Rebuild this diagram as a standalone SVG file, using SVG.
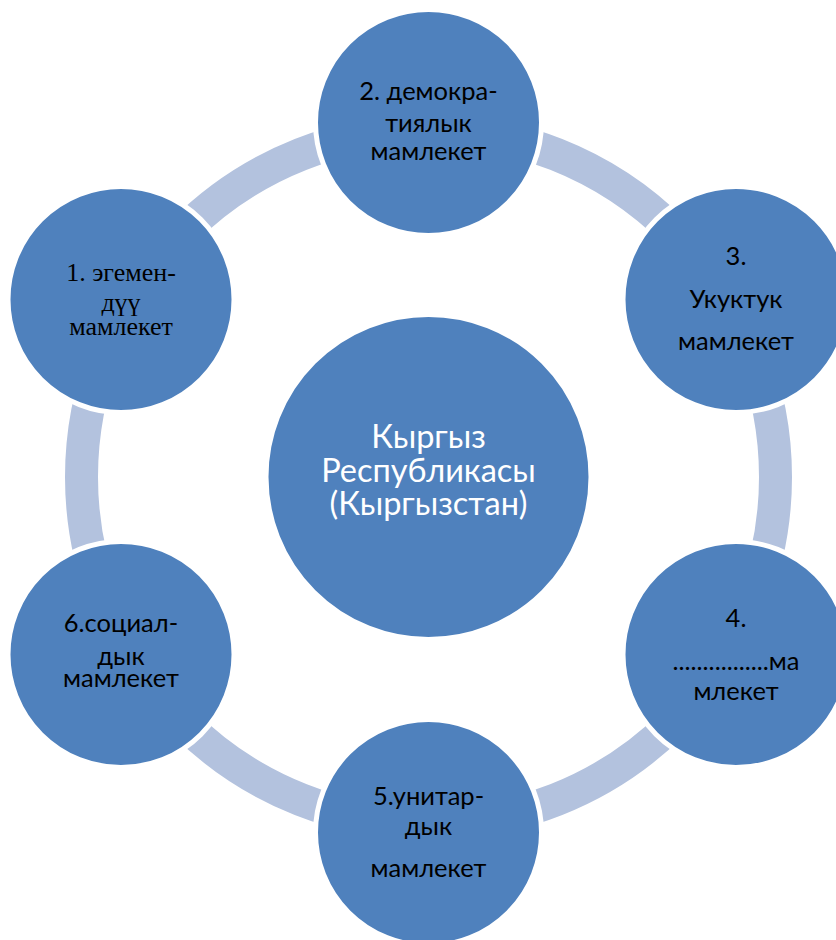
<svg xmlns="http://www.w3.org/2000/svg" width="836" height="940" viewBox="0 0 836 940">
<style>
.node{fill:#4F81BD;stroke:#FFFFFF;stroke-width:5}
.t{font-family:Lato,"Open Sans","Liberation Sans",sans-serif;font-size:25.5px;fill:#000;text-anchor:middle}
.ts{font-family:"Liberation Serif","Times New Roman",serif;font-size:26px;fill:#000;text-anchor:middle}
.tc{font-family:Lato,"Open Sans","Liberation Sans",sans-serif;font-size:32.5px;fill:#FFFFFF;text-anchor:middle}
</style>
<rect width="836" height="940" fill="#FFFFFF"/>
<g id="connectors">
<circle cx="428.5" cy="477" r="347" fill="none" stroke="#B3C2DE" stroke-width="33"/>
</g>
<g id="center">
<circle class="node" cx="428.5" cy="477" r="162.5"/>
<text class="tc" x="428.5" y="448">Кыргыз</text>
<text class="tc" x="428.5" y="482">Республикасы</text>
<text class="tc" x="428.5" y="515">(Кыргызстан)</text>
</g>
<g id="n1">
<circle class="node" cx="121" cy="299.5" r="113"/>
<text class="ts" x="121" y="281">1. эгемен-</text>
<text class="ts" x="121" y="311">дүү</text>
<text class="ts" x="121" y="335">мамлекет</text>
</g>
<g id="n2">
<circle class="node" cx="428.5" cy="122.5" r="113"/>
<text class="t" x="428.5" y="100">2. демокра-</text>
<text class="t" x="428.5" y="132">тиялык</text>
<text class="t" x="428.5" y="160">мамлекет</text>
</g>
<g id="n3">
<circle class="node" cx="736" cy="299.5" r="113"/>
<text class="t" x="736" y="265">3.</text>
<text class="t" x="736" y="308">Укуктук</text>
<text class="t" x="736" y="350">мамлекет</text>
</g>
<g id="n4">
<circle class="node" cx="736" cy="654.5" r="113"/>
<text class="t" x="736" y="627">4.</text>
<text class="t" x="736" y="670">................ма</text>
<text class="t" x="736" y="700">млекет</text>
</g>
<g id="n5">
<circle class="node" cx="428.5" cy="832.5" r="113"/>
<text class="t" x="428.5" y="805">5.унитар-</text>
<text class="t" x="428.5" y="835">дык</text>
<text class="t" x="428.5" y="877">мамлекет</text>
</g>
<g id="n6">
<circle class="node" cx="121" cy="654.5" r="113"/>
<text class="t" x="121" y="632">6.социал-</text>
<text class="t" x="121" y="665">дык</text>
<text class="t" x="121" y="687">мамлекет</text>
</g>
</svg>
